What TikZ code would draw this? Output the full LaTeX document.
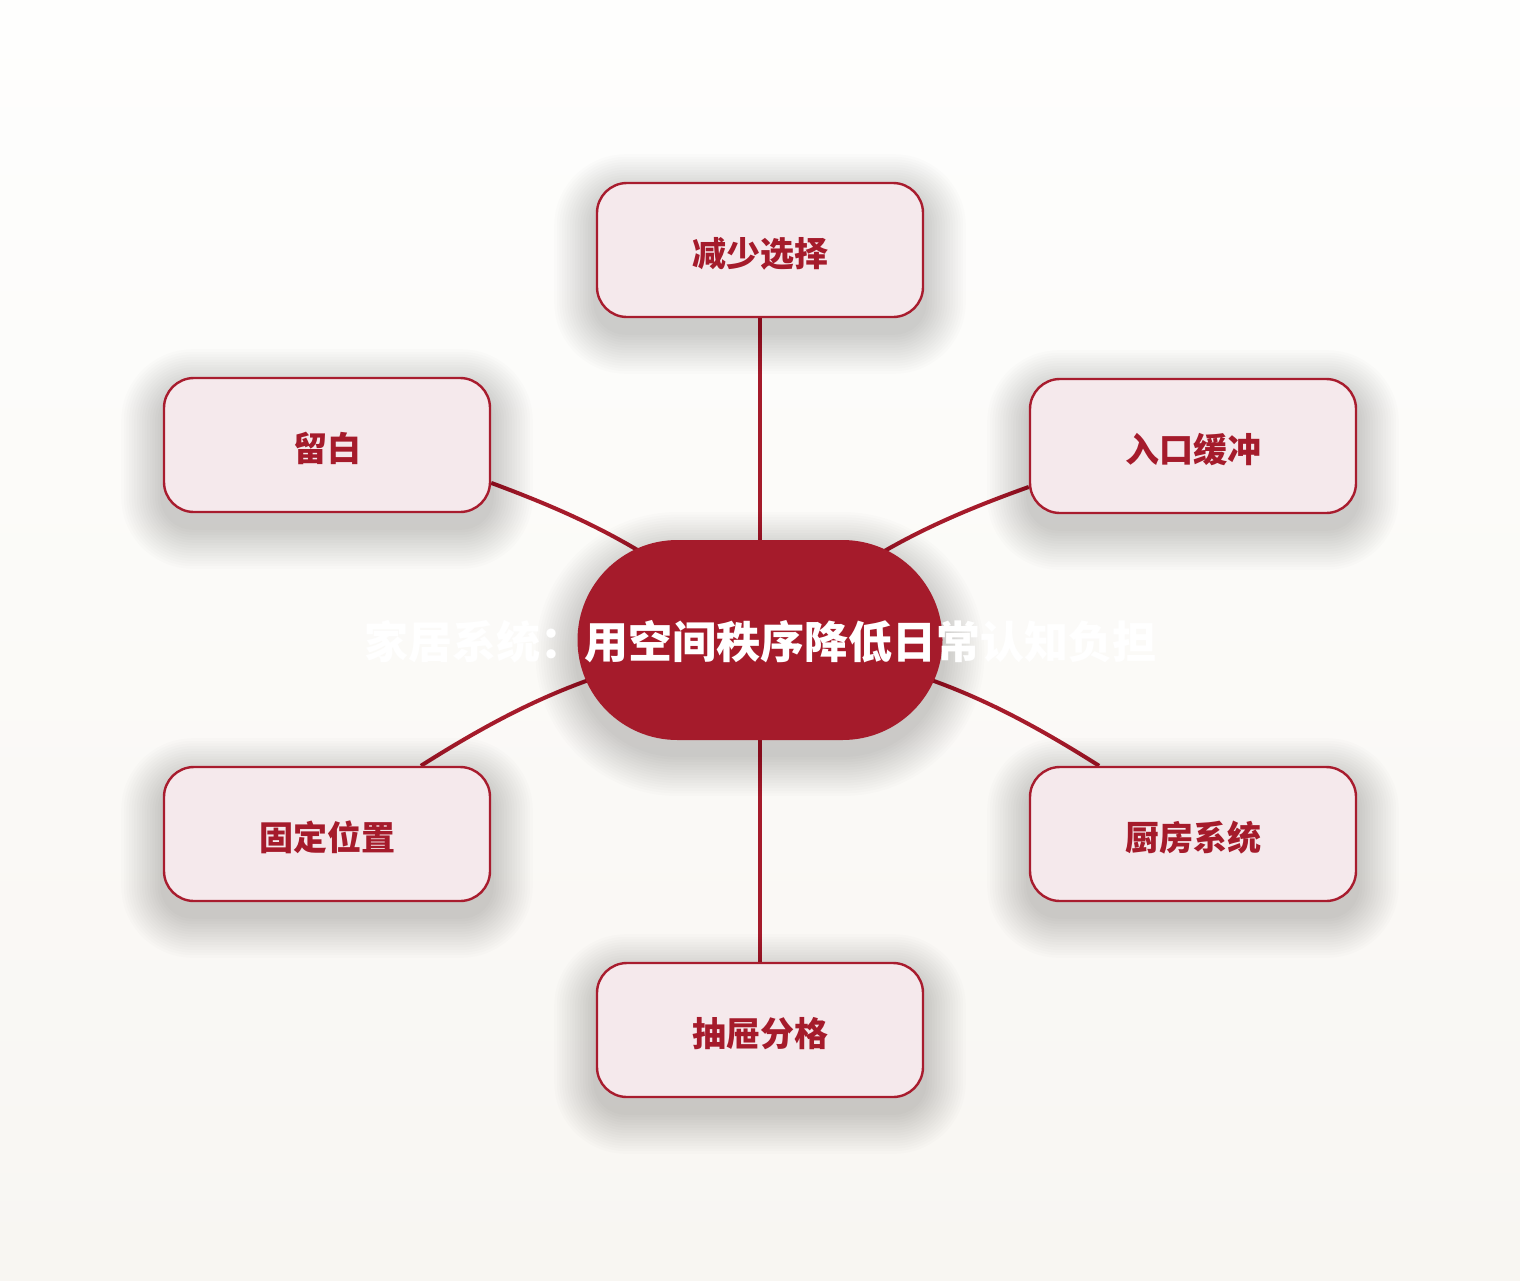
\documentclass[tikz,border=0pt]{standalone}
\usepackage{fontspec}
\newfontfamily\cjk{Noto Sans CJK SC}
\usetikzlibrary{backgrounds,calc}
\pgfdeclarelayer{shadowlayer}
\pgfsetlayers{background,shadowlayer,main}
\definecolor{deepred}{HTML}{A51B2B}
\definecolor{edgered}{HTML}{A81C2E}
\definecolor{boxfill}{HTML}{F5E9EC}
\definecolor{bgtop}{HTML}{FEFEFD}
\definecolor{bgbot}{HTML}{F8F6F2}
\newcommand\dropshadow[2]{%
  \foreach \k in {1,...,16}{%
    \pgfmathsetmacro\rr{#2+\k*1.3}%
    \fill[black, opacity=0.0105, rounded corners=\rr pt]
      ($(#1.south west)+(-\k*2.6,-\k*2.6-14)$) rectangle ($(#1.north east)+(\k*2.6,\k*2.6-14)$);}}
\begin{document}
\begin{tikzpicture}[x=0.5pt,y=0.5pt,
  leaf/.style={draw=edgered, line width=1.2pt, fill=boxfill, rounded corners=15pt,
    minimum width=163pt, minimum height=67pt, inner sep=0pt, text height=16pt, text depth=0pt,
    font=\cjk\bfseries\fontsize{17pt}{20pt}\selectfont, text=deepred},
  hub/.style={fill=deepred, rounded corners=50pt, minimum width=182.5pt, minimum height=100pt,
    inner sep=0pt},
  hubtext/.style={text=white, inner sep=0pt, font=\cjk\bfseries\fontsize{22pt}{26pt}\selectfont},
  link/.style={draw=deepred, line width=2pt}]
\useasboundingbox (0,0) rectangle (1520,-1280);
\node[hub] (c) at (760,-640) {};
\node[hubtext] (title) at (760,-642) {家居系统：用空间秩序降低日常认知负担};
\node[leaf] (b1) at (760,-250) {减少选择};
\node[leaf] (b2) at (327,-445) {留白};
\node[leaf] (b3) at (1193,-446) {入口缓冲};
\node[leaf] (b4) at (327,-834) {固定位置};
\node[leaf] (b5) at (1193,-834) {厨房系统};
\node[leaf] (b6) at (760,-1030) {抽屉分格};
\begin{pgfonlayer}{shadowlayer}
\dropshadow{c}{50}
\dropshadow{b1}{15}
\dropshadow{b2}{15}
\dropshadow{b3}{15}
\dropshadow{b4}{15}
\dropshadow{b5}{15}
\dropshadow{b6}{15}
\end{pgfonlayer}
\begin{pgfonlayer}{background}
\fill[top color=bgtop, bottom color=bgbot] (0,0) rectangle (1520,-1280);
\draw[link] (b1) -- (c);
\draw[link] (b6) -- (c);
\draw[link] (b2.-13.5) to[bend left=10] (c.center);
\draw[link] (b3.-166.2) to[bend right=10] (c.center);
\draw[link] (b4.36) to[bend left=12] (c.center);
\draw[link] (b5.144) to[bend right=12] (c.center);
\end{pgfonlayer}
\end{tikzpicture}
\end{document}
